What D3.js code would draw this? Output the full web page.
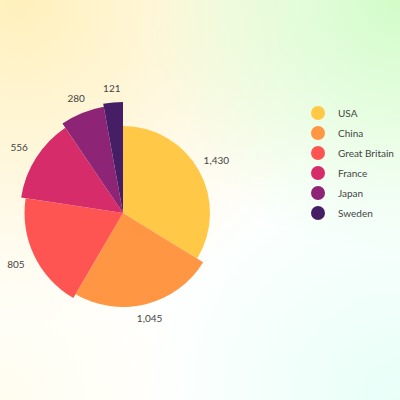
<!DOCTYPE html>
<meta charset="utf-8">
<style>
body { margin: 0; }
svg { display: block; font-family: Lato, "Noto Sans", sans-serif; }
.label { font-size: 10px; fill: #444; }
.legend text { font-size: 10px; fill: #444; }
</style>
<body>
<script src="https://cdn.jsdelivr.net/npm/d3@7"></script>
<script>

var countries = ["USA", "China", "Great Britain", "France", "Japan", "Sweden"];
var values = [1430, 1045, 805, 556, 280, 121];
var colors = ["#ffc947", "#ff9643", "#fe5553", "#d62d6a", "#8e2475", "#461e66"];

var width = 400,
    height = 400;

var svg = d3.select("body").append("svg")
    .attr("width", width)
    .attr("height", height);

// soft background wash
var defs = svg.append("defs");
function glow(id, cx, cy, r, color) {
  var g = defs.append("radialGradient").attr("id", id)
      .attr("gradientUnits", "userSpaceOnUse")
      .attr("cx", cx).attr("cy", cy).attr("r", r);
  g.append("stop").attr("offset", 0).attr("stop-color", color).attr("stop-opacity", 1);
  g.append("stop").attr("offset", 1).attr("stop-color", color).attr("stop-opacity", 0);
}
glow("bgY", 20, 0, 330, "#fff0bc");
glow("bgG", 400, 0, 260, "#d2fcc8");
glow("bgC", 400, 400, 260, "#e8fff8");
glow("bgW", 0, 400, 200, "#fffdf0");

svg.append("rect").attr("width", width).attr("height", height).attr("fill", "#ffffff");
["bgY", "bgG", "bgC", "bgW"].forEach(function(id) {
  svg.append("rect").attr("width", width).attr("height", height).attr("fill", "url(#" + id + ")");
});

var data = countries.map(function(c, i) { return {name: c, value: values[i], color: colors[i]}; });

// bigger value -> smaller radius
var radius = d3.scaleLinear()
    .domain([d3.min(values), d3.max(values)])
    .range([111, 87]);

var pie = d3.pie().sort(null).value(function(d) { return d.value; });
var arcs = pie(data);

var g = svg.append("g").attr("transform", "translate(123,213)");

var arc = d3.arc().innerRadius(0);

g.selectAll("path")
  .data(arcs)
  .enter().append("path")
    .attr("fill", function(d) { return d.data.color; })
    .attr("d", function(d) { return arc.outerRadius(radius(d.data.value))(d); });

var fmt = d3.format(",");
g.selectAll("text.label")
  .data(arcs)
  .enter().append("text")
    .attr("class", "label")
    .attr("transform", function(d) {
      var a = (d.startAngle + d.endAngle) / 2;
      var r = radius(d.data.value) + 13 + 8 * Math.abs(Math.sin(a));
      return "translate(" + (Math.sin(a) * r) + "," + (-Math.cos(a) * r) + ")";
    })
    .attr("text-anchor", "middle")
    .attr("dy", "0.35em")
    .text(function(d) { return fmt(d.data.value); });

var legend = svg.append("g").attr("class", "legend")
    .attr("transform", "translate(318,113)");

var item = legend.selectAll("g")
  .data(data)
  .enter().append("g")
    .attr("transform", function(d, i) { return "translate(0," + (i * 20) + ")"; });

item.append("circle")
    .attr("r", 7)
    .attr("fill", function(d) { return d.color; });

item.append("text")
    .attr("x", 20)
    .attr("dy", "0.35em")
    .text(function(d) { return d.name; });

</script>
</body>
</html>
